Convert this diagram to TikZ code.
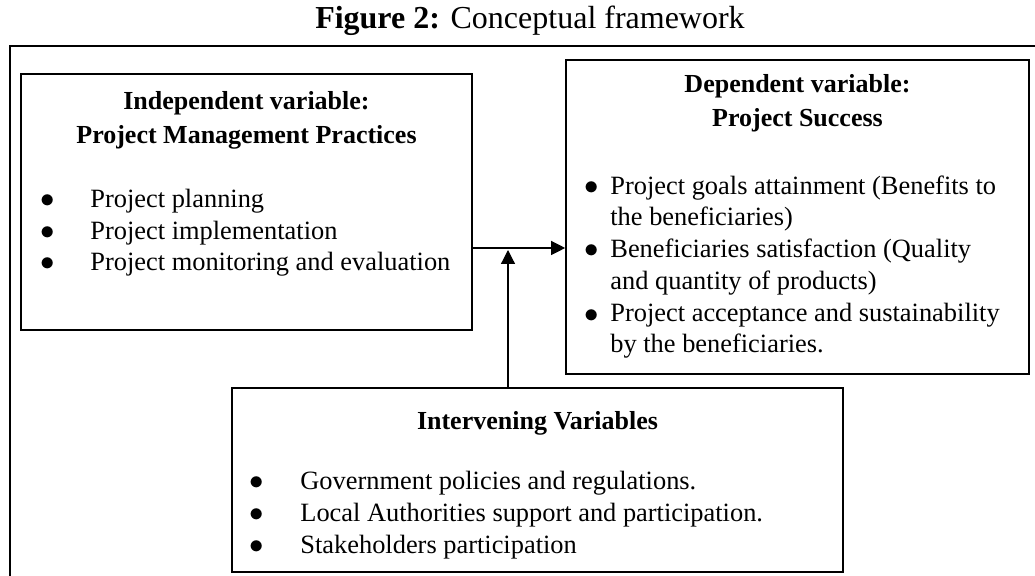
\documentclass[tikz,border=0pt]{standalone}
\usepackage{fontspec}
\setmainfont{Liberation Serif}
\usetikzlibrary{positioning,arrows.meta,calc}

\tikzset{
  varbox/.style={draw, line width=0.8pt, rectangle, inner sep=0pt},
  heading/.style={font=\fontsize{13}{17}\selectfont\bfseries, align=center},
  point/.style={font=\fontsize{13.2}{15.6}\selectfont, anchor=west, align=left, inner sep=0pt},
  dot/.style={font=\fontsize{15}{15}\selectfont, inner sep=0pt},
  link/.style={line width=0.6pt, -{Triangle[length=7pt,width=7pt]}},
}

\begin{document}
\begin{tikzpicture}[x=0.5pt, y=-0.5pt]
\useasboundingbox (0,0) rectangle (1035,576);

% Caption and outer frame
\node[font=\fontsize{16}{18}\selectfont] (caption) at (530,21) {\textbf{Figure 2:} Conceptual framework};
\draw[line width=0.8pt] (1035,46) -- (10,46) -- (10,576);

% Independent variable
\node[varbox, minimum width=225.5pt, minimum height=128pt] (indep) at (246.5,202) {};
\node[heading] (indephead) at (246.5,120) {Independent variable:\\ Project Management Practices};
\foreach \txt [count=\i] in {Project planning, Project implementation, Project monitoring and evaluation} {
  \node[dot] (indepdot\i) at (48,{170+31.5*\i}) {$\bullet$};
  \node[point] (indepitem\i) at (90,{170+31.5*\i}) {\txt};
}

% Dependent variable
\node[varbox, minimum width=231.5pt, minimum height=157pt] (dep) at (797.5,217) {};
\node[heading] (dephead) at (797.5,103) {Dependent variable:\\ Project Success};
\node[dot] (depdot1) at (592,188) {$\bullet$};
\node[point] (depitem1) at (610,203.5) {Project goals attainment (Benefits to\\ the beneficiaries)};
\node[dot] (depdot2) at (592,251) {$\bullet$};
\node[point] (depitem2) at (610,267) {Beneficiaries satisfaction (Quality\\ and quantity of products)};
\node[dot] (depdot3) at (592,316) {$\bullet$};
\node[point] (depitem3) at (610,331) {Project acceptance and sustainability\\ by the beneficiaries.};

% Intervening variables
\node[varbox, minimum width=305.5pt, minimum height=92pt] (interv) at (537.5,480) {};
\node[heading] (intervhead) at (537.5,423) {Intervening Variables};
\foreach \txt [count=\i] in {Government policies and regulations., Local Authorities support and participation., Stakeholders participation} {
  \node[dot] (intervdot\i) at (257,{451+32*\i}) {$\bullet$};
  \node[point] (intervitem\i) at (300,{451+32*\i}) {\txt};
}

% Links
\coordinate (joint) at (508,248);
\draw[link] (indep.east |- joint) -- (dep.west |- joint);
\draw[link] (interv.north -| joint) -- ($(joint)+(0,2)$);
\end{tikzpicture}
\end{document}
